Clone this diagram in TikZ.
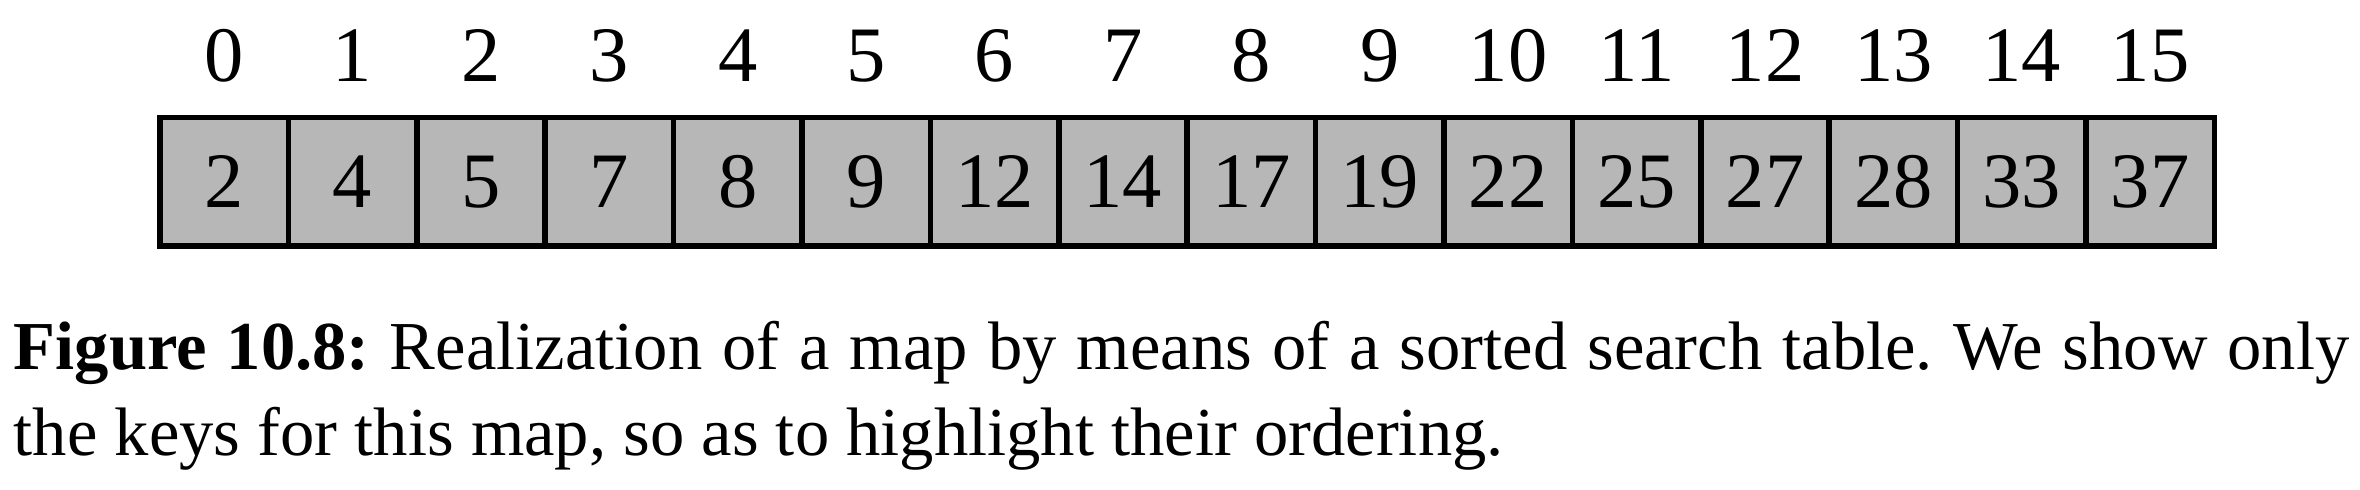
\documentclass[tikz,border=0pt]{standalone}
\usepackage{fontspec}
\setmainfont{Liberation Serif}
\definecolor{cellgray}{RGB}{183,183,183}

\begin{document}
\frenchspacing
\begin{tikzpicture}[
    keycell/.style={draw, line width=1.25pt, fill=cellgray, minimum width=1cm,
      minimum height=1cm, inner sep=0pt, font=\fontsize{17.4}{20}\selectfont},
    idxlabel/.style={anchor=base, inner sep=0pt, font=\fontsize{17.4}{20}\selectfont},
    captext/.style={anchor=base west, align=left, inner sep=0pt,
      font=\fontsize{15.2}{19.06}\selectfont}]
    \useasboundingbox (-1.246,-1.900) rectangle (17.134,1.916);
    % sorted search table with its indices
    \foreach \k/\v in {0/2,1/4,2/5,3/7,4/8,5/9,6/12,7/14,8/17,9/19,10/22,11/25,12/27,13/28,14/33,15/37} {
      \node[keycell] (c\k) at (\k+0.5,0.5) {\v};
      \node[idxlabel] (i\k) at (\k+0.5,1.285) {\k};
    }
    % base of a two-line node is the last line
    \node[captext] (cap) at (-1.145,-1.628) {\makebox[18.19cm][s]{\textbf{Figure 10.8:} Realization of a map by means of a sorted search table. We show only}\\
      the keys for this map, so as to highlight their ordering.};
\end{tikzpicture}
\end{document}
